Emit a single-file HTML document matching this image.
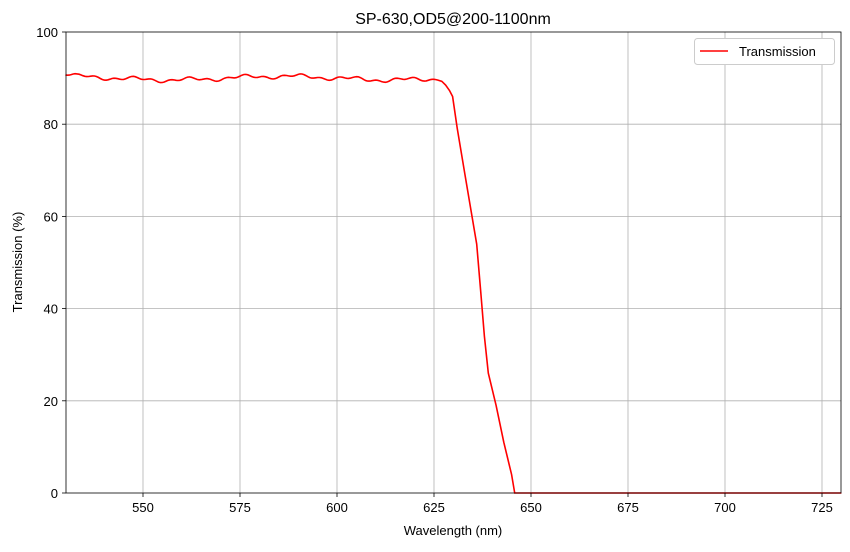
<!DOCTYPE html>
<html><head><meta charset="utf-8"><style>
body{margin:0;background:#fff;}
svg text{font-family:"Liberation Sans","DejaVu Sans",sans-serif;fill:#000;}
</style></head><body>
<svg id="s" width="850" height="547" xmlns="http://www.w3.org/2000/svg">
<rect width="850" height="547" fill="#fff"/>
<g stroke="#b0b0b0" stroke-width="0.8">
<line x1="143" y1="32" x2="143" y2="493"/><line x1="240" y1="32" x2="240" y2="493"/>
<line x1="337" y1="32" x2="337" y2="493"/><line x1="434" y1="32" x2="434" y2="493"/>
<line x1="531" y1="32" x2="531" y2="493"/><line x1="628" y1="32" x2="628" y2="493"/>
<line x1="725" y1="32" x2="725" y2="493"/><line x1="822" y1="32" x2="822" y2="493"/>
<line x1="66" y1="400.8" x2="841" y2="400.8"/><line x1="66" y1="308.6" x2="841" y2="308.6"/>
<line x1="66" y1="216.4" x2="841" y2="216.4"/><line x1="66" y1="124.2" x2="841" y2="124.2"/>
</g>
<polyline id="curve" fill="none" stroke="#ff0000" stroke-width="1.6"/>
<rect x="66" y="32" width="775" height="461" fill="none" stroke="#000" stroke-width="0.8"/>
<g stroke="#000" stroke-width="0.8">
<line x1="143" y1="493" x2="143" y2="497"/><line x1="240" y1="493" x2="240" y2="497"/>
<line x1="337" y1="493" x2="337" y2="497"/><line x1="434" y1="493" x2="434" y2="497"/>
<line x1="531" y1="493" x2="531" y2="497"/><line x1="628" y1="493" x2="628" y2="497"/>
<line x1="725" y1="493" x2="725" y2="497"/><line x1="822" y1="493" x2="822" y2="497"/>
<line x1="62" y1="493" x2="66" y2="493"/><line x1="62" y1="400.8" x2="66" y2="400.8"/>
<line x1="62" y1="308.6" x2="66" y2="308.6"/><line x1="62" y1="216.4" x2="66" y2="216.4"/>
<line x1="62" y1="124.2" x2="66" y2="124.2"/><line x1="62" y1="32" x2="66" y2="32"/>
</g>
<g font-size="13" text-anchor="middle">
<text x="143" y="512">550</text><text x="240" y="512">575</text><text x="337" y="512">600</text>
<text x="434" y="512">625</text><text x="531" y="512">650</text><text x="628" y="512">675</text>
<text x="725" y="512">700</text><text x="822" y="512">725</text>
<text x="453" y="535">Wavelength (nm)</text>
<text x="453" y="24" font-size="16">SP-630,OD5@200-1100nm</text>
</g>
<g font-size="13" text-anchor="end">
<text x="58" y="498">0</text><text x="58" y="405.8">20</text><text x="58" y="313.6">40</text>
<text x="58" y="221.4">60</text><text x="58" y="129.2">80</text><text x="58" y="37">100</text>
</g>
<text transform="translate(22,262) rotate(-90)" font-size="13" text-anchor="middle">Transmission (%)</text>
<rect x="694.5" y="38.5" width="140" height="26" rx="3" fill="#fff" stroke="#ccc"/>
<line x1="700" y1="51" x2="728" y2="51" stroke="#ff0000" stroke-width="1.6"/>
<text x="739" y="56" font-size="13">Transmission</text>
</svg>
<script>
var X=function(w){return 65.4+(w-530)*3.88},Y=function(t){return 493-t*4.61};
var p=[];
for(var w=530;w<=626;w+=0.5){var t=90+0.35*Math.sin(w*0.45)+0.25*Math.sin(w*1.3)+0.4*Math.sin(w*0.11);if(w<533)t+=0.6*(533-w)/3;p.push([w,t]);}
[[627,89.3],[628,88.5],[629,87.3],[629.8,86],[631,79],[633,69],[634,64],[636,54],[637,44],[638,34],[639,26],[641,19],[643,11],[645,4],[645.8,0],[730,0]].forEach(function(a){p.push(a)});
document.getElementById('curve').setAttribute('points',p.map(function(a){return X(a[0]).toFixed(1)+','+Y(a[1]).toFixed(1)}).join(' '));
</script>
</body></html>
